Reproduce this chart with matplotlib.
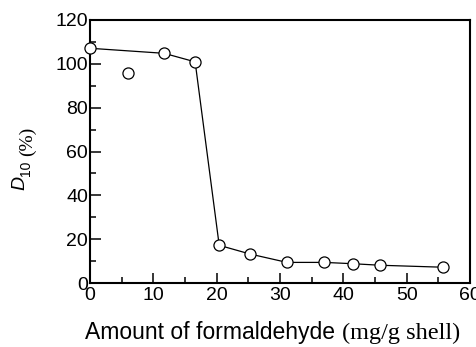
import matplotlib
matplotlib.use("Agg")
import matplotlib.pyplot as plt
from matplotlib.ticker import MultipleLocator

# connected series
amount = [0, 11.7, 16.6, 20.4, 25.3, 31.1, 37.0, 41.5, 45.8, 55.7]
d10 = [107.1, 104.8, 100.9, 17.2, 13.2, 9.4, 9.4, 8.8, 8.1, 7.2]
# stand-alone point
amount_single = [6.0]
d10_single = [96.0]

plt.rcParams['font.family'] = ['Liberation Sans', 'DejaVu Sans']

fig = plt.figure(figsize=(4.77, 3.47), dpi=100)
ax = fig.add_axes([90 / 477, 1 - 283 / 347, 380 / 477, 263 / 347])

ax.plot(amount, d10, color='black', lw=0.9, marker='o', ms=8,
        mfc='white', mec='black', mew=0.9, zorder=3, clip_on=False)
ax.plot(amount_single, d10_single, ls='none', marker='o', ms=8,
        mfc='white', mec='black', mew=0.9, zorder=3)

ax.set_xlim(0, 60)
ax.set_ylim(0, 120)
ax.xaxis.set_major_locator(MultipleLocator(10))
ax.xaxis.set_minor_locator(MultipleLocator(5))
ax.yaxis.set_major_locator(MultipleLocator(20))
ax.yaxis.set_minor_locator(MultipleLocator(10))

ax.tick_params(axis='both', which='both', direction='in', width=1.1,
               labelsize=14)
ax.tick_params(axis='x', which='major', length=7, pad=3)
ax.tick_params(axis='x', which='minor', length=4)
ax.tick_params(axis='y', which='major', length=8, pad=1.5)
ax.tick_params(axis='y', which='minor', length=4.5)
for s in ax.spines.values():
    s.set_linewidth(1.5)

# y label: D (italic sans), 10 subscript, (%) serif
t1 = fig.text(20 / 477, 1 - 190 / 347, 'D', rotation=90, style='italic',
              ha='center', va='bottom', fontsize=14)
t_sub = ax.annotate('10', xy=(1, 1), xycoords=t1, xytext=(3, 0),
                    textcoords='offset points', rotation=90, ha='right',
                    va='bottom', fontsize=10)
ax.annotate('(%)', xy=(0, 1), xycoords=t_sub, xytext=(0, 3),
            textcoords='offset points', rotation=90, ha='left',
            va='bottom', fontsize=14, family='Liberation Serif')

# x label: sans + serif parts
t2 = fig.text(85 / 477, 3 / 347, 'Amount of formaldehyde', ha='left',
              va='bottom', fontsize=16.5)
ax.annotate('(mg/g shell)', xy=(1, 0), xycoords=t2, xytext=(5, 0),
            textcoords='offset points', ha='left', va='bottom',
            fontsize=17.5, family='Liberation Serif')

fig.savefig('out.png', dpi=100)
